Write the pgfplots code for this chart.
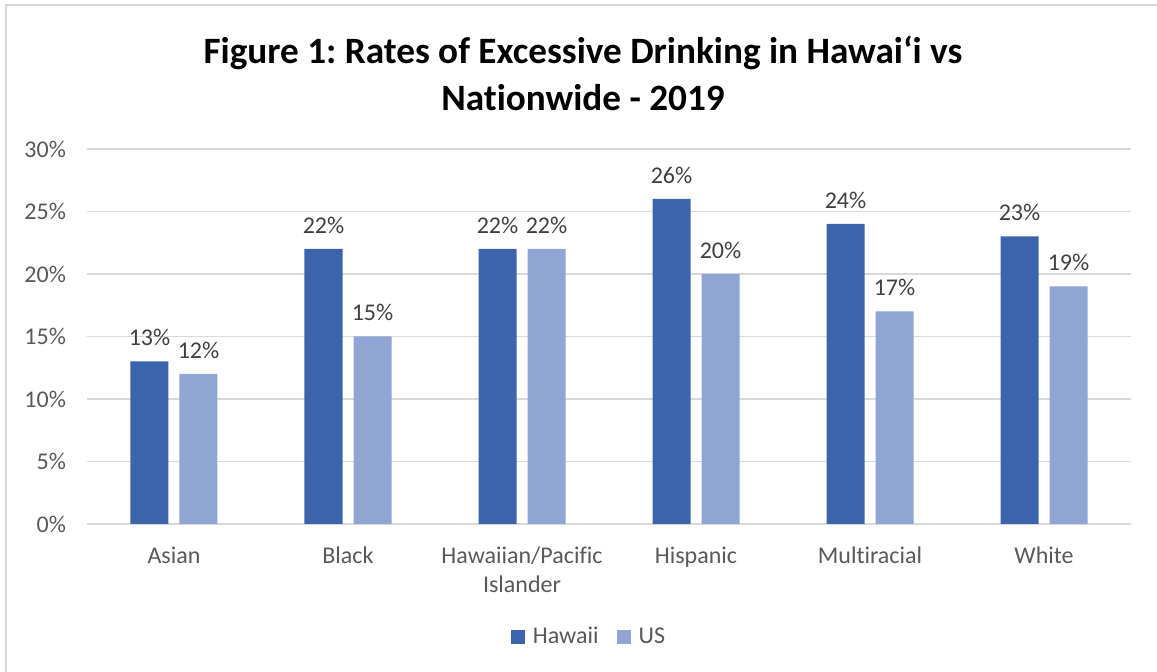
\documentclass[border=0pt]{standalone}
\usepackage{pgfplots}
\pgfplotsset{compat=1.18}
\usepackage{fontspec}
\setmainfont{Carlito}[Ligatures={NoCommon}]
\frenchspacing
\definecolor{hawaii}{RGB}{60,100,173}
\definecolor{usc}{RGB}{143,165,212}
\definecolor{gridc}{RGB}{217,217,217}
\definecolor{tickc}{RGB}{89,89,89}
\definecolor{labc}{RGB}{64,64,64}
\begin{document}
\frenchspacing
\begin{tikzpicture}
\useasboundingbox (-43.5pt,-74pt) rectangle (535pt,262pt);
\draw[gridc, line width=0.8pt] (-40.5pt,-74pt) -- (-40.5pt,259.5pt) -- (535pt,259.5pt);
\node[align=center, font=\fontsize{18.6}{23.5}\selectfont\bfseries\frenchspacing, text=black] at (248pt,225.5pt) {Figure 1: Rates of Excessive Drinking in Hawai‘i vs\\Nationwide - 2019};
\begin{axis}[
  at={(0,0)}, anchor=south west,
  scale only axis, width=522pt, height=187.5pt,
  xmin=-0.5, xmax=5.5, ymin=0, ymax=30,
  ybar=5.5pt, bar width=19pt,
  axis line style={draw=none},
  major tick length=0pt,
  ymajorgrids, grid style={gridc, line width=0.8pt},
  ytick={0,5,10,15,20,25,30},
  yticklabels={0\%,5\%,10\%,15\%,20\%,25\%,30\%},
  yticklabel style={font=\fontsize{12}{14}\selectfont, text=tickc, xshift=-7pt},
  xtick={0,1,2,3,4,5},
  xticklabels={Asian,Black,{Hawaiian/Pacific\\Islander},Hispanic,Multiracial,White},
  xticklabel style={font=\fontsize{12}{14.5}\selectfont, text=tickc, align=center, anchor=north, yshift=-8pt},
  /pgf/number format/assume math mode=true,
  nodes near coords={\pgfmathprintnumber{\pgfplotspointmeta}\%},
  every node near coord/.append style={font=\fontsize{12}{14}\selectfont, text=labc, anchor=center, yshift=12pt},
  legend style={at={(0.4818,-0.3013)}, anchor=center, draw=none, font=\fontsize{12}{14}\selectfont, text=tickc, legend columns=2, /tikz/every even column/.append style={column sep=7pt}, /tikz/every odd column/.append style={inner sep=0pt}},
  legend image code/.code={\draw[#1, draw=none] (0pt,-3.5pt) rectangle (7pt,3.5pt);},
  legend cell align=left,
]
\addplot[fill=hawaii, draw=none] coordinates {(0,13) (1,22) (2,22) (3,26) (4,24) (5,23)};
\addplot[fill=usc, draw=none] coordinates {(0,12) (1,15) (2,22) (3,20) (4,17) (5,19)};
\legend{\hspace{2pt}Hawaii,\hspace{2pt}US}
\end{axis}
\end{tikzpicture}
\end{document}
